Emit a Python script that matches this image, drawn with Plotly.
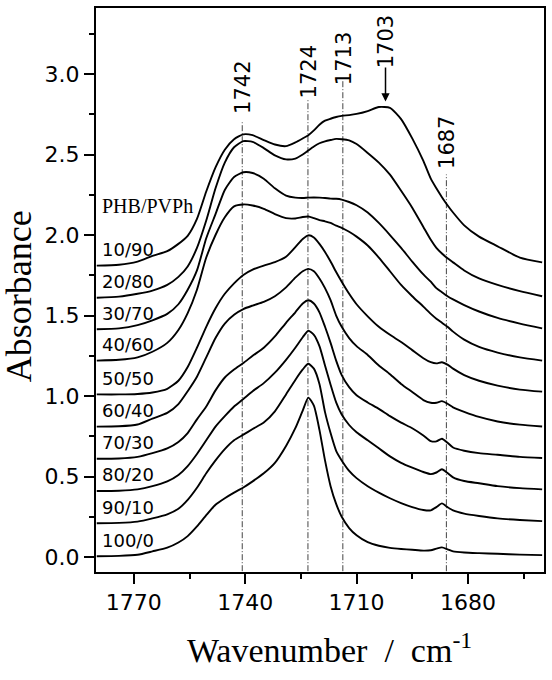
import plotly.graph_objects as go

# ---------------- data ----------------
wavenumber = [1780, 1774, 1769, 1765, 1761, 1758, 1755.5, 1753, 1750.5, 1748, 1745.5, 1743,
              1740.5, 1738, 1735, 1732, 1729, 1726.5, 1724.5, 1723, 1721.5, 1720, 1718.5, 1717,
              1715.5, 1714, 1712, 1710, 1707, 1704, 1701, 1698, 1695, 1692, 1690, 1688.5, 1687,
              1685.5, 1684, 1681, 1677, 1672, 1666, 1660]

a_10_90 = [1.81, 1.815, 1.835, 1.87, 1.90, 1.945, 1.995, 2.10, 2.27, 2.42, 2.53, 2.595,
           2.625, 2.62, 2.59, 2.562, 2.552, 2.575, 2.60, 2.62, 2.65, 2.685, 2.71, 2.722,
           2.733, 2.74, 2.745, 2.752, 2.77, 2.795, 2.79, 2.72, 2.60, 2.46, 2.35, 2.29, 2.235,
           2.185, 2.14, 2.06, 1.99, 1.93, 1.86, 1.83]
a_20_80 = [1.61, 1.617, 1.635, 1.655, 1.69, 1.74, 1.805, 1.92, 2.09, 2.29, 2.45, 2.545,
           2.583, 2.578, 2.54, 2.495, 2.47, 2.475, 2.50, 2.525, 2.55, 2.57, 2.582, 2.59,
           2.597, 2.595, 2.588, 2.565, 2.51, 2.45, 2.375, 2.275, 2.17, 2.05, 1.97, 1.92, 1.885,
           1.855, 1.83, 1.78, 1.73, 1.69, 1.652, 1.62]
a_30_70 = [1.415, 1.42, 1.44, 1.47, 1.51, 1.57, 1.66, 1.78, 1.98, 2.13, 2.28, 2.36,
           2.39, 2.385, 2.35, 2.29, 2.245, 2.232, 2.23, 2.232, 2.233, 2.232, 2.23, 2.226,
           2.225, 2.22, 2.205, 2.185, 2.14, 2.075, 2.00, 1.92, 1.835, 1.755, 1.71, 1.67, 1.645,
           1.62, 1.60, 1.565, 1.525, 1.485, 1.45, 1.42]
a_40_60 = [1.22, 1.225, 1.24, 1.275, 1.33, 1.41, 1.515, 1.66, 1.86, 2.00, 2.11, 2.178,
           2.19, 2.183, 2.163, 2.13, 2.105, 2.103, 2.112, 2.115, 2.105, 2.093, 2.085, 2.075,
           2.058, 2.045, 2.02, 1.99, 1.935, 1.86, 1.775, 1.69, 1.62, 1.555, 1.51, 1.48, 1.455,
           1.43, 1.40, 1.35, 1.305, 1.27, 1.24, 1.22]
a_50_50 = [1.01, 1.01, 1.013, 1.022, 1.045, 1.095, 1.18, 1.30, 1.43, 1.545, 1.635, 1.70,
           1.752, 1.785, 1.81, 1.832, 1.865, 1.925, 1.975, 1.998, 1.985, 1.945, 1.895, 1.835,
           1.77, 1.71, 1.635, 1.57, 1.495, 1.43, 1.38, 1.335, 1.285, 1.235, 1.21, 1.203, 1.21,
           1.195, 1.17, 1.13, 1.095, 1.065, 1.04, 1.027]
a_60_40 = [0.81, 0.812, 0.823, 0.86, 0.895, 0.95, 1.03, 1.12, 1.24, 1.36, 1.45, 1.505,
           1.54, 1.562, 1.585, 1.62, 1.675, 1.735, 1.775, 1.79, 1.775, 1.73, 1.67, 1.595,
           1.50, 1.43, 1.36, 1.31, 1.255, 1.19, 1.135, 1.075, 1.025, 0.975, 0.958, 0.958, 0.968,
           0.952, 0.93, 0.902, 0.87, 0.842, 0.822, 0.811]
a_70_30 = [0.61, 0.612, 0.622, 0.645, 0.675, 0.715, 0.77, 0.855, 0.935, 1.035, 1.115, 1.165,
           1.205, 1.25, 1.30, 1.37, 1.455, 1.52, 1.575, 1.595, 1.575, 1.52, 1.43, 1.33,
           1.22, 1.13, 1.055, 1.005, 0.96, 0.92, 0.875, 0.835, 0.80, 0.755, 0.72, 0.718, 0.735,
           0.71, 0.68, 0.66, 0.645, 0.635, 0.622, 0.615]
a_80_20 = [0.41, 0.412, 0.42, 0.44, 0.47, 0.51, 0.565, 0.64, 0.725, 0.81, 0.875, 0.935,
           0.982, 1.03, 1.08, 1.145, 1.225, 1.30, 1.365, 1.405, 1.38, 1.31, 1.19, 1.07,
           0.96, 0.885, 0.82, 0.775, 0.725, 0.675, 0.625, 0.585, 0.555, 0.528, 0.515, 0.525, 0.545,
           0.522, 0.495, 0.472, 0.458, 0.44, 0.428, 0.42]
a_90_10 = [0.21, 0.212, 0.22, 0.24, 0.265, 0.30, 0.355, 0.43, 0.52, 0.60, 0.67, 0.725,
           0.76, 0.795, 0.835, 0.905, 1.01, 1.10, 1.165, 1.20, 1.17, 1.075, 0.90, 0.77,
           0.66, 0.60, 0.535, 0.49, 0.44, 0.40, 0.365, 0.335, 0.31, 0.292, 0.29, 0.31, 0.333,
           0.31, 0.29, 0.27, 0.255, 0.24, 0.23, 0.223]
a_100_0 = [0.005, 0.007, 0.014, 0.035, 0.058, 0.09, 0.13, 0.19, 0.26, 0.325, 0.365, 0.40,
           0.432, 0.47, 0.52, 0.585, 0.69, 0.80, 0.91, 0.99, 0.94, 0.79, 0.60, 0.44,
           0.33, 0.25, 0.18, 0.135, 0.092, 0.07, 0.057, 0.05, 0.045, 0.04, 0.042, 0.052, 0.06,
           0.048, 0.035, 0.028, 0.024, 0.02, 0.015, 0.012]

blend_labels = ["10/90", "20/80", "30/70", "40/60", "50/50",
                "60/40", "70/30", "80/20", "90/10", "100/0"]
blend_series = [a_10_90, a_20_80, a_30_70, a_40_60, a_50_50,
                a_60_40, a_70_30, a_80_20, a_90_10, a_100_0]

# marker lines: drawn position, top end, label text, label centre
marker_pos = [1740.8, 1723.1, 1713.7, 1685.8]
marker_top = [2.70, 2.84, 2.96, 2.376]
marker_text = ["1742", "1724", "1713", "1687"]
marker_label_x = [1740.8, 1722.8, 1713.3, 1685.8]
marker_label_y = [2.915, 3.01, 3.094, 2.574]

arrow_text = "1703"
arrow_x = 1702.2
arrow_tip = 2.83
arrow_tail = 3.05
arrow_label_y = 3.20

x_range = [1780.2, 1659.5]
y_range = [-0.093, 3.41]

# ---------------- figure ----------------
fig = go.Figure()

for pos, top in zip(marker_pos, marker_top):
    fig.add_trace(go.Scatter(
        x=[pos, pos], y=[y_range[0] - 0.2, top], mode="lines",
        line=dict(color="#444444", width=1, dash="6px,2px,1px,2px"),
        hoverinfo="skip", showlegend=False))

for name, vals in zip(blend_labels, blend_series):
    fig.add_trace(go.Scatter(
        x=wavenumber, y=vals, mode="lines", name=name,
        line=dict(color="black", width=1.9, shape="spline", smoothing=0.6),
        hoverinfo="skip", showlegend=False))

sans = "DejaVu Sans, Arial, sans-serif"
serif = "Liberation Serif, Times New Roman, serif"

annotations = []
for name, vals in zip(blend_labels, blend_series):
    annotations.append(dict(
        x=1779.1, y=vals[0] + 0.1, xref="x", yref="y", text=name,
        showarrow=False, xanchor="left", yanchor="middle",
        font=dict(family=sans, size=18, color="black")))

annotations.append(dict(
    x=1779.1, y=2.18, xref="x", yref="y", text="PHB/PVPh",
    showarrow=False, xanchor="left", yanchor="middle",
    font=dict(family=serif, size=20, color="black")))

for txt, lx, ly in zip(marker_text, marker_label_x, marker_label_y):
    annotations.append(dict(
        x=lx, y=ly, xref="x", yref="y", text=txt, textangle=-90,
        showarrow=False, xanchor="center", yanchor="middle",
        font=dict(family=sans, size=21, color="black")))

annotations.append(dict(
    x=arrow_x, y=arrow_label_y, xref="x", yref="y", text=arrow_text, textangle=-90,
    showarrow=False, xanchor="center", yanchor="middle",
    font=dict(family=sans, size=21, color="black")))
annotations.append(dict(
    x=arrow_x, y=arrow_tip, ax=arrow_x, ay=arrow_tail, xref="x", yref="y",
    axref="x", ayref="y", text="", showarrow=True,
    arrowhead=2, arrowsize=1.1, arrowwidth=1.5, arrowcolor="black"))

# axis titles
annotations.append(dict(
    x=-0.172, y=0.489, xref="paper", yref="paper", text="Absorbance",
    textangle=-90, showarrow=False, xanchor="center", yanchor="middle",
    font=dict(family=serif, size=36, color="black")))
annotations.append(dict(
    x=0.522, y=-0.135, xref="paper", yref="paper",
    text="Wavenumber\u00a0 /\u00a0 cm<sup>-1</sup>",
    showarrow=False, xanchor="center", yanchor="middle",
    font=dict(family=serif, size=34, color="black")))

axis_common = dict(
    showline=True, linewidth=2, linecolor="black", mirror=True,
    ticks="outside", ticklen=10, tickwidth=1.5, tickcolor="black",
    showgrid=False, zeroline=False,
    tickfont=dict(family=sans, size=22, color="black"),
)

fig.update_layout(
    width=552, height=680,
    margin=dict(l=96, r=8, t=6, b=108),
    paper_bgcolor="white", plot_bgcolor="white",
    annotations=annotations,
    xaxis=dict(range=x_range, tick0=1680, dtick=30,
               minor=dict(tick0=1680, dtick=15, ticks="outside", ticklen=5,
                          tickwidth=1.5, tickcolor="black", showgrid=False),
               **axis_common),
    yaxis=dict(range=y_range, tick0=0, dtick=0.5, tickformat=".1f",
               minor=dict(tick0=0, dtick=0.25, ticks="outside", ticklen=5,
                          tickwidth=1.5, tickcolor="black", showgrid=False),
               **axis_common),
)

fig.write_html("out.html")
